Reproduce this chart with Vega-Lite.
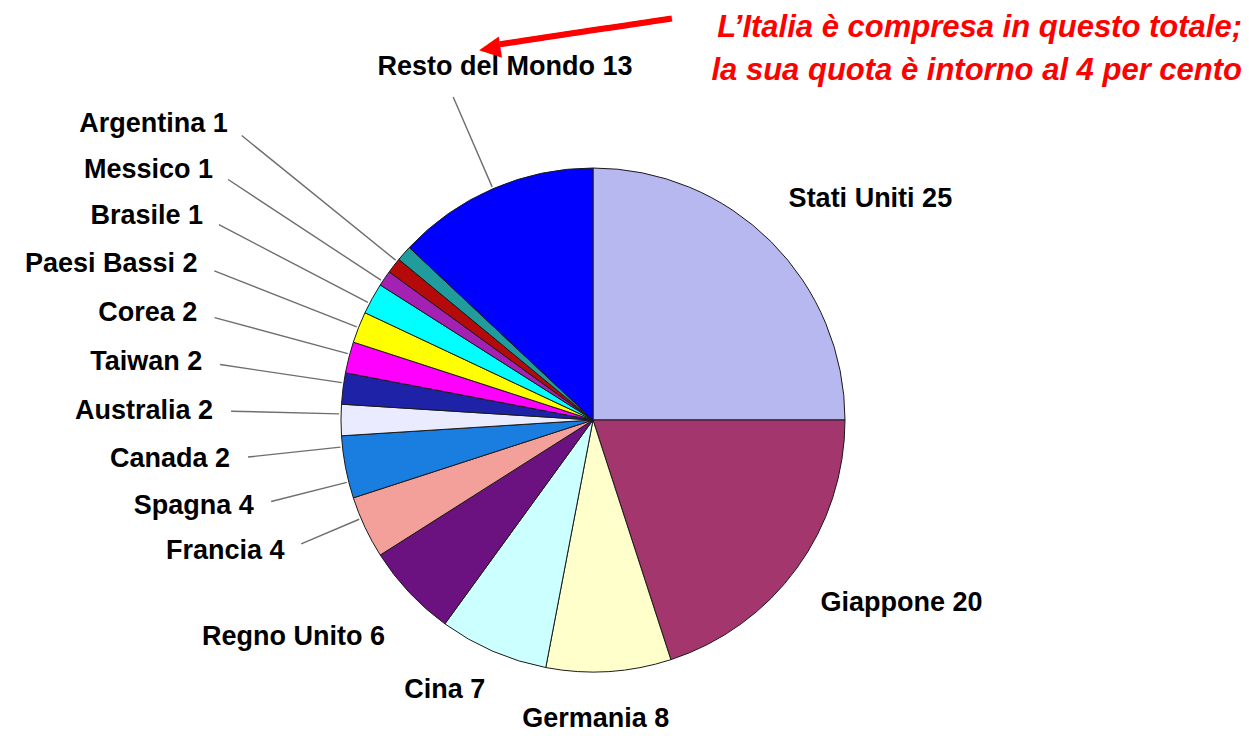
{
  "$schema": "https://vega.github.io/schema/vega-lite/v6.json",
  "width": 1186,
  "height": 596,
  "autosize": {"type": "none"},
  "padding": {"left": 0, "top": 122, "right": 63, "bottom": 18},
  "background": "white",
  "config": {"view": {"stroke": null}},
  "title": {
    "text": ["L’Italia è compresa in questo totale;", "la sua quota è intorno al 4 per cento"],
    "color": "#ff0000",
    "font": "Liberation Sans",
    "fontSize": 31,
    "fontStyle": "italic",
    "fontWeight": "bold",
    "anchor": "end",
    "frame": "group",
    "offset": -85,
    "lineHeight": 43,
    "dx": 56
  },
  "data": {
    "values": [
      {"paese": "Stati Uniti", "quota": 25, "ordine": 0, "etichetta": "Stati Uniti 25"},
      {"paese": "Giappone", "quota": 20, "ordine": 1, "etichetta": "Giappone 20"},
      {"paese": "Germania", "quota": 8, "ordine": 2, "etichetta": "Germania 8"},
      {"paese": "Cina", "quota": 7, "ordine": 3, "etichetta": "Cina 7"},
      {"paese": "Regno Unito", "quota": 6, "ordine": 4, "etichetta": "Regno Unito 6"},
      {"paese": "Francia", "quota": 4, "ordine": 5, "etichetta": "Francia 4"},
      {"paese": "Spagna", "quota": 4, "ordine": 6, "etichetta": "Spagna 4"},
      {"paese": "Canada", "quota": 2, "ordine": 7, "etichetta": "Canada 2"},
      {"paese": "Australia", "quota": 2, "ordine": 8, "etichetta": "Australia 2"},
      {"paese": "Taiwan", "quota": 2, "ordine": 9, "etichetta": "Taiwan 2"},
      {"paese": "Corea", "quota": 2, "ordine": 10, "etichetta": "Corea 2"},
      {"paese": "Paesi Bassi", "quota": 2, "ordine": 11, "etichetta": "Paesi Bassi 2"},
      {"paese": "Brasile", "quota": 1, "ordine": 12, "etichetta": "Brasile 1"},
      {"paese": "Messico", "quota": 1, "ordine": 13, "etichetta": "Messico 1"},
      {"paese": "Argentina", "quota": 1, "ordine": 14, "etichetta": "Argentina 1"},
      {"paese": "Resto del Mondo", "quota": 13, "ordine": 15, "etichetta": "Resto del Mondo 13"}
    ]
  },
  "resolve": {"scale": {"theta": "independent", "radius": "independent", "strokeOpacity": "independent"}},
  "layer": [
    {
      "mark": {"type": "arc", "outerRadius": 252, "stroke": "#1a1a1a", "strokeWidth": 1},
      "encoding": {
        "theta": {"field": "quota", "type": "quantitative", "stack": true, "scale": {"domain": [0, 100]}},
        "order": {"field": "ordine", "type": "quantitative"},
        "color": {
          "field": "paese",
          "type": "nominal",
          "legend": null,
          "scale": {
            "domain": ["Stati Uniti", "Giappone", "Germania", "Cina", "Regno Unito", "Francia", "Spagna", "Canada", "Australia", "Taiwan", "Corea", "Paesi Bassi", "Brasile", "Messico", "Argentina", "Resto del Mondo"],
            "range": ["#b8b8f0", "#a3366c", "#ffffcc", "#ccffff", "#6b1280", "#f4a09a", "#1a7ee0", "#ebebff", "#1e22a6", "#ff00ff", "#ffff00", "#00ffff", "#a322b4", "#b40a0a", "#209c9c", "#0000ff"]
          }
        }
      }
    },
    {
      "transform": [{"filter": "datum.ordine >= 5 && datum.ordine <= 14"}],
      "mark": {"type": "arc", "filled": false, "stroke": "#6e6e6e", "strokeWidth": 1.4, "innerRadius": 254},
      "encoding": {
        "theta": {"field": "ordine", "type": "quantitative", "stack": false, "scale": {"type": "sqrt", "zero": false, "domain": [5, 14], "range": [4.311, 5.393]}},
        "theta2": {"field": "ordine"},
        "radius": {"field": "ordine", "type": "quantitative", "scale": {"type": "linear", "zero": false, "domain": [5, 14], "range": [317, 452]}}
      }
    },
    {
      "transform": [{"filter": "datum.ordine >= 5 && datum.ordine <= 14"}],
      "mark": {"type": "text", "align": "right", "baseline": "middle", "font": "Liberation Sans", "fontSize": 27, "fontWeight": "bold", "color": "#000000"},
      "encoding": {
        "theta": {"field": "ordine", "type": "quantitative", "stack": false, "scale": {"type": "sqrt", "zero": false, "domain": [5, 14], "range": [4.311, 5.393]}},
        "radius": {"field": "ordine", "type": "quantitative", "scale": {"type": "linear", "zero": false, "domain": [5, 14], "range": [335, 470]}},
        "text": {"field": "etichetta"}
      }
    },
    {
      "mark": {"type": "arc", "filled": false, "stroke": "#6e6e6e", "strokeWidth": 1.4, "innerRadius": 254, "outerRadius": 352, "padAngle": 3},
      "encoding": {
        "theta": {"field": "quota", "type": "quantitative", "stack": true, "scale": {"domain": [0, 100]}},
        "order": {"field": "ordine", "type": "quantitative"},
        "detail": {"field": "paese"},
        "strokeOpacity": {"condition": {"test": "datum.paese === 'Resto del Mondo'", "value": 1}, "value": 0}
      }
    },
    {
      "mark": {"type": "text", "radius": 312, "align": "left", "baseline": "middle", "dx": -25, "font": "Liberation Sans", "fontSize": 27, "fontWeight": "bold", "color": "#000000"},
      "encoding": {
        "theta": {"field": "quota", "type": "quantitative", "stack": true, "scale": {"domain": [0, 100]}},
        "order": {"field": "ordine", "type": "quantitative"},
        "detail": {"field": "paese"},
        "text": {"condition": {"test": "datum.paese === 'Stati Uniti' || datum.paese === 'Giappone'", "field": "etichetta"}, "value": ""}
      }
    },
    {
      "mark": {"type": "text", "radius": 300, "align": "center", "baseline": "middle", "dx": -16, "font": "Liberation Sans", "fontSize": 27, "fontWeight": "bold", "color": "#000000"},
      "encoding": {
        "theta": {"field": "quota", "type": "quantitative", "stack": true, "scale": {"domain": [0, 100]}},
        "order": {"field": "ordine", "type": "quantitative"},
        "detail": {"field": "paese"},
        "text": {"condition": {"test": "datum.paese === 'Germania'", "field": "etichetta"}, "value": ""}
      }
    },
    {
      "mark": {"type": "text", "radius": 294, "align": "right", "baseline": "middle", "dx": 9, "font": "Liberation Sans", "fontSize": 27, "fontWeight": "bold", "color": "#000000"},
      "encoding": {
        "theta": {"field": "quota", "type": "quantitative", "stack": true, "scale": {"domain": [0, 100]}},
        "order": {"field": "ordine", "type": "quantitative"},
        "detail": {"field": "paese"},
        "text": {"condition": {"test": "datum.paese === 'Cina'", "field": "etichetta"}, "value": ""}
      }
    },
    {
      "mark": {"type": "text", "radius": 317, "align": "right", "baseline": "middle", "dx": 23, "font": "Liberation Sans", "fontSize": 27, "fontWeight": "bold", "color": "#000000"},
      "encoding": {
        "theta": {"field": "quota", "type": "quantitative", "stack": true, "scale": {"domain": [0, 100]}},
        "order": {"field": "ordine", "type": "quantitative"},
        "detail": {"field": "paese"},
        "text": {"condition": {"test": "datum.paese === 'Regno Unito'", "field": "etichetta"}, "value": ""}
      }
    },
    {
      "mark": {"type": "text", "radius": 385, "align": "center", "baseline": "middle", "dx": 65, "font": "Liberation Sans", "fontSize": 27, "fontWeight": "bold", "color": "#000000"},
      "encoding": {
        "theta": {"field": "quota", "type": "quantitative", "stack": true, "scale": {"domain": [0, 100]}},
        "order": {"field": "ordine", "type": "quantitative"},
        "detail": {"field": "paese"},
        "text": {"condition": {"test": "datum.paese === 'Resto del Mondo'", "field": "etichetta"}, "value": ""}
      }
    },
    {
      "mark": {"type": "text", "radius": 385, "align": "left", "baseline": "middle", "dx": 41, "dy": -12, "angle": -8.5, "font": "DejaVu Sans Mono", "fontSize": 36, "color": "#ff0000"},
      "encoding": {
        "theta": {"field": "quota", "type": "quantitative", "stack": true, "scale": {"domain": [0, 100]}},
        "order": {"field": "ordine", "type": "quantitative"},
        "detail": {"field": "paese"},
        "text": {"condition": {"test": "datum.paese === 'Resto del Mondo'", "value": "◀━━━━━━━━"}, "value": ""}
      }
    }
  ]
}
